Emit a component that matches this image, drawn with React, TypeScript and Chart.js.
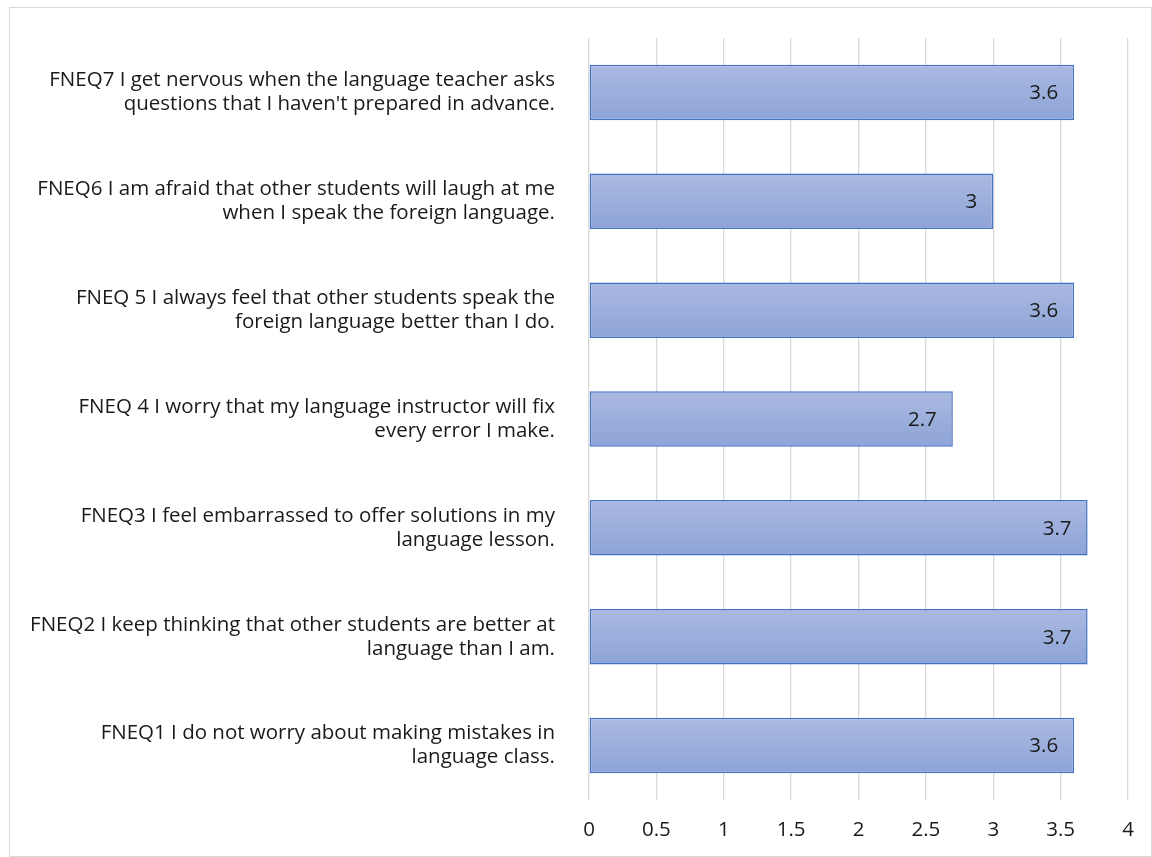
import React, { useEffect, useRef } from "react";
import { Chart, registerables } from "chart.js";

Chart.register(...registerables);

const categories: string[][] = [
  ["FNEQ7 I get nervous when the language teacher asks", "questions that I haven't prepared in advance."],
  ["FNEQ6 I am afraid that other students will laugh at me", "when I speak the foreign language."],
  ["FNEQ 5 I always feel that other students speak the", "foreign language better than I do."],
  ["FNEQ 4 I worry that my language instructor will fix", "every error I make."],
  ["FNEQ3 I feel embarrassed to offer solutions in my", "language lesson."],
  ["FNEQ2 I keep thinking that other students are better at", "language than I am."],
  ["FNEQ1 I do not worry about making mistakes in", "language class."],
];
const values: number[] = [3.6, 3, 3.6, 2.7, 3.7, 3.7, 3.6];
const valueLabels: string[] = ["3.6", "3", "3.6", "2.7", "3.7", "3.7", "3.6"];
const xTicks: number[] = [0, 0.5, 1, 1.5, 2, 2.5, 3, 3.5, 4];

const FONT = "'Open Sans', 'Noto Sans', sans-serif";
const FSIZE = 20.5;

const gradientPlugin = {
  id: "barGradient",
  beforeDatasetsDraw(chart: any) {
    const ctx = chart.ctx;
    const meta = chart.getDatasetMeta(0);
    meta.data.forEach((el: any) => {
      const h = el.height;
      const g = ctx.createLinearGradient(0, el.y - h / 2, 0, el.y + h / 2);
      g.addColorStop(0, "#AAB9E1");
      g.addColorStop(1, "#8DA4D7");
      el.options = Object.assign({}, el.options, { backgroundColor: g });
    });
  },
};

const valueLabelPlugin = {
  id: "valueLabels",
  afterDatasetsDraw(chart: any) {
    const ctx = chart.ctx;
    const meta = chart.getDatasetMeta(0);
    ctx.save();
    ctx.font = `${FSIZE}px ${FONT}`;
    ctx.fillStyle = "#1a1a1a";
    ctx.textAlign = "right";
    ctx.textBaseline = "middle";
    meta.data.forEach((el: any, i: number) => {
      ctx.fillText(valueLabels[i], el.x - 16, el.y + 1);
    });
    ctx.restore();
  },
};

export default function App() {
  const ref = useRef<HTMLCanvasElement | null>(null);
  useEffect(() => {
    if (!ref.current) return;
    const chart = new Chart(ref.current, {
      type: "bar",
      data: {
        labels: categories,
        datasets: [
          {
            data: values,
            backgroundColor: () => "#9BAEDC",
            borderColor: "#4472C4",
            borderWidth: 1.5,
            borderSkipped: false,
            barPercentage: 0.51,
            categoryPercentage: 1,
          },
        ],
      },
      options: {
        indexAxis: "y",
        animation: false,
        responsive: false,
        maintainAspectRatio: false,
        layout: { padding: { top: 30, right: 23, left: 0, bottom: 0 } },
        plugins: { legend: { display: false }, tooltip: { enabled: false } },
        scales: {
          x: {
            min: 0,
            max: 4,
            afterBuildTicks: (axis: any) => {
              axis.ticks = xTicks.map((v) => ({ value: v }));
            },
            afterFit: (axis: any) => {
              axis.height = 56;
              axis.paddingLeft = 0;
              axis.paddingRight = 0;
            },
            grid: { color: "#D9D9D9", lineWidth: 1.3, drawTicks: false },
            border: { display: false },
            ticks: {
              padding: 18,
              color: "#1a1a1a",
              font: { family: FONT, size: FSIZE },
              callback: (v: any) => String(v),
            },
          },
          y: {
            afterFit: (axis: any) => {
              axis.width = 579;
              axis.paddingTop = 0;
              axis.paddingBottom = 0;
            },
            grid: { display: false },
            border: { display: false },
            ticks: {
              padding: 26,
              color: "#1a1a1a",
              font: { family: FONT, size: FSIZE, lineHeight: 24 / FSIZE },
            },
          },
        },
      },
      plugins: [gradientPlugin, valueLabelPlugin],
    });
    return () => chart.destroy();
  }, []);
  return (
    <div
      style={{
        position: "absolute",
        left: 9,
        top: 7,
        width: 1143,
        height: 850,
        border: "1px solid #D9D9D9",
        boxSizing: "border-box",
        background: "#fff",
      }}
    >
      <canvas ref={ref} width={1141} height={848} style={{ display: "block" }} />
    </div>
  );
}
